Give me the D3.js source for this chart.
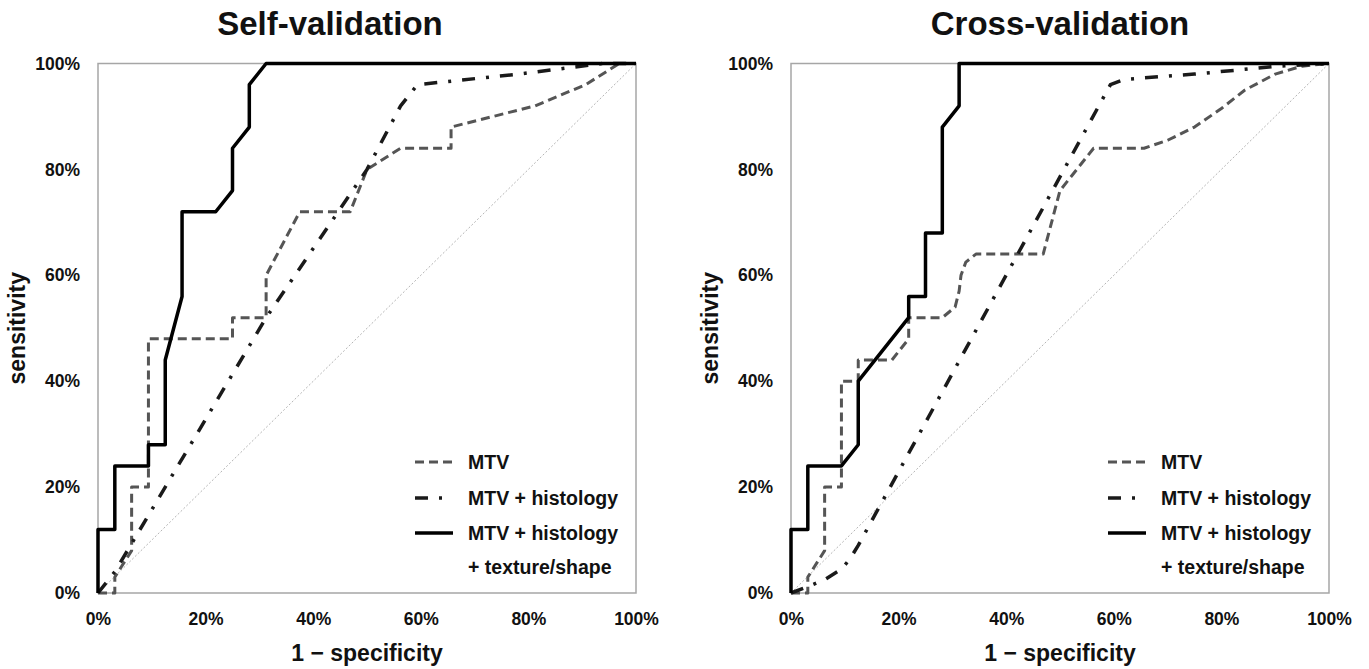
<!DOCTYPE html>
<html><head><meta charset="utf-8">
<script src="https://cdn.jsdelivr.net/npm/d3@7"></script>
<style>
html,body{margin:0;padding:0;background:#fff;}
svg text{font-family:"Liberation Sans",Arial,sans-serif;font-weight:bold;fill:#111;}
</style></head>
<body><svg id="c" width="1369" height="669"></svg>
<script>
// ---- data (values in %) ----
const tickValues = [0, 20, 40, 60, 80, 100];
const tickLabels = ["0%", "20%", "40%", "60%", "80%", "100%"];
const panelTitles = ["Self-validation", "Cross-validation"];
const legendLabels = ["MTV", "MTV + histology", "MTV + histology", "+ texture/shape"];
const diagonal = [[0, 0], [100, 100]];

// Self-validation: [1 - specificity, sensitivity]
const selfMTV = [[0,0],[3.125,0],[3.125,3],[6.25,8],[6.25,20],[9.375,20],[9.375,48],[25,48],[25,52],[31.25,52],[31.25,60],[37.5,72],[46.875,72],[50,80],[56.25,84],[65.625,84],[65.625,88],[81.25,92],[90.625,96],[96.875,100],[100,100]];
const selfHist = [[0,0],[3.125,4],[12.5,20],[21.875,36],[31.25,52],[40.625,66],[50,80],[56.25,92],[59.375,96],[78.125,98],[93.75,100],[100,100]];
const selfFull = [[0,0],[0,12],[3.125,12],[3.125,24],[9.375,24],[9.375,28],[12.5,28],[12.5,44],[15.625,56],[15.625,72],[21.875,72],[25,76],[25,84],[28.125,88],[28.125,96],[31.25,100],[100,100]];

// Cross-validation
const crossMTV = [[0,0],[3.125,0],[3.125,3],[6.25,8],[6.25,20],[9.375,20],[9.375,40],[12.5,40],[12.5,44],[18.75,44],[21.875,48],[21.875,52],[28.125,52],[30.5,54],[31.25,57],[31.6,60],[32.5,62.5],[34.375,64],[46.875,64],[50,76],[56.25,84],[65.625,84],[70,85.5],[75,88],[80,91.5],[84.375,95],[90,98],[95,99.5],[100,100]];
const crossHist = [[0,0],[3.125,1.2],[6.25,2.5],[9.375,4.5],[11,6.5],[12.5,9],[59.375,96],[62,97],[75,98],[90.625,99.5],[100,100]];
const crossFull = [[0,0],[0,12],[3.125,12],[3.125,24],[9.375,24],[12.5,28],[12.5,40],[21.875,52],[21.875,56],[25,56],[25,68],[28.125,68],[28.125,88],[31.25,92],[31.25,100],[100,100]];

const styles = {
  mtv:  {stroke:"#555", width:3, dash:"9,5"},
  hist: {stroke:"#1a1a1a", width:3.5, dash:"13,11,3,11"},
  full: {stroke:"#000", width:3.5, dash:null}
};

const panels = [
  {ox:0,   title:panelTitles[0], titleX:330,  series:[["mtv",selfMTV],["hist",selfHist],["full",selfFull]]},
  {ox:693, title:panelTitles[1], titleX:1060, series:[["mtv",crossMTV],["hist",crossHist],["full",crossFull]]}
];

const svg = d3.select("#c");
const fontFam = '"Liberation Sans",Arial,sans-serif';

panels.forEach(p => {
  const x = d3.scaleLinear().domain([0,100]).range([98+p.ox, 636+p.ox]);
  const y = d3.scaleLinear().domain([0,100]).range([593, 63.5]);
  const g = svg.append("g");

  // title
  g.append("text").attr("x", p.titleX).attr("y", 35).attr("text-anchor","middle")
    .style("font-size","33px").text(p.title);

  // frame
  g.append("rect").attr("x", x(0)).attr("y", y(100)).attr("width", x(100)-x(0)).attr("height", y(0)-y(100))
    .attr("fill","none").attr("stroke","#a6a6a6").attr("stroke-width",1.5);

  // axes
  const ya = g.append("g").attr("transform",`translate(${x(0)},0)`)
    .call(d3.axisLeft(y).tickValues(tickValues).tickFormat((d,i)=>tickLabels[i]).tickSize(0).tickPadding(18));
  ya.select(".domain").remove();
  ya.selectAll("text").style("font-size","17.5px").style("font-family",fontFam).style("font-weight","bold").attr("fill","#111");

  const xa = g.append("g").attr("transform",`translate(0,${y(0)})`)
    .call(d3.axisBottom(x).tickValues(tickValues).tickFormat((d,i)=>tickLabels[i]).tickSize(0).tickPadding(20));
  xa.select(".domain").remove();
  xa.selectAll("text").style("font-size","17.5px").style("font-family",fontFam).style("font-weight","bold").attr("fill","#111");

  // axis titles
  g.append("text").attr("x", (x(0)+x(100))/2).attr("y", 661).attr("text-anchor","middle")
    .style("font-size","23px").text("1 \u2212 specificity");
  g.append("text").attr("transform",`translate(${25+p.ox},${(y(0)+y(100))/2}) rotate(-90)`).attr("text-anchor","middle")
    .style("font-size","23px").text("sensitivity");

  // diagonal
  g.append("path").datum(diagonal)
    .attr("d", d3.line().x(d=>x(d[0])).y(d=>y(d[1])))
    .attr("fill","none").attr("stroke","#b5b5b5").attr("stroke-width",1).attr("stroke-dasharray","2,2");

  // series
  p.series.forEach(([key, data]) => {
    const s = styles[key];
    const line = d3.line().x(d=>x(d[0])).y(d=>y(d[1])).curve(d3.curveLinear);
    g.append("path").datum(data).attr("d", line)
      .attr("fill","none").attr("stroke", s.stroke).attr("stroke-width", s.width)
      .attr("stroke-dasharray", s.dash).attr("stroke-linejoin","round");
  });

  // legend
  const lx0 = 415 + p.ox, lx1 = 453 + p.ox, tx = 468 + p.ox;
  const rows = [["mtv",462,legendLabels[0]],["hist",498,legendLabels[1]],["full",533,legendLabels[2]],[null,567,legendLabels[3]]];
  rows.forEach(([key, ry, label]) => {
    if (key) {
      const s = styles[key];
      g.append("line").attr("x1", lx0).attr("x2", lx1).attr("y1", ry).attr("y2", ry)
        .attr("stroke", s.stroke).attr("stroke-width", s.width).attr("stroke-dasharray", s.dash);
    }
    g.append("text").attr("x", tx).attr("y", ry).attr("dy","0.35em").style("font-size","19.5px").text(label);
  });
});
</script></body></html>
